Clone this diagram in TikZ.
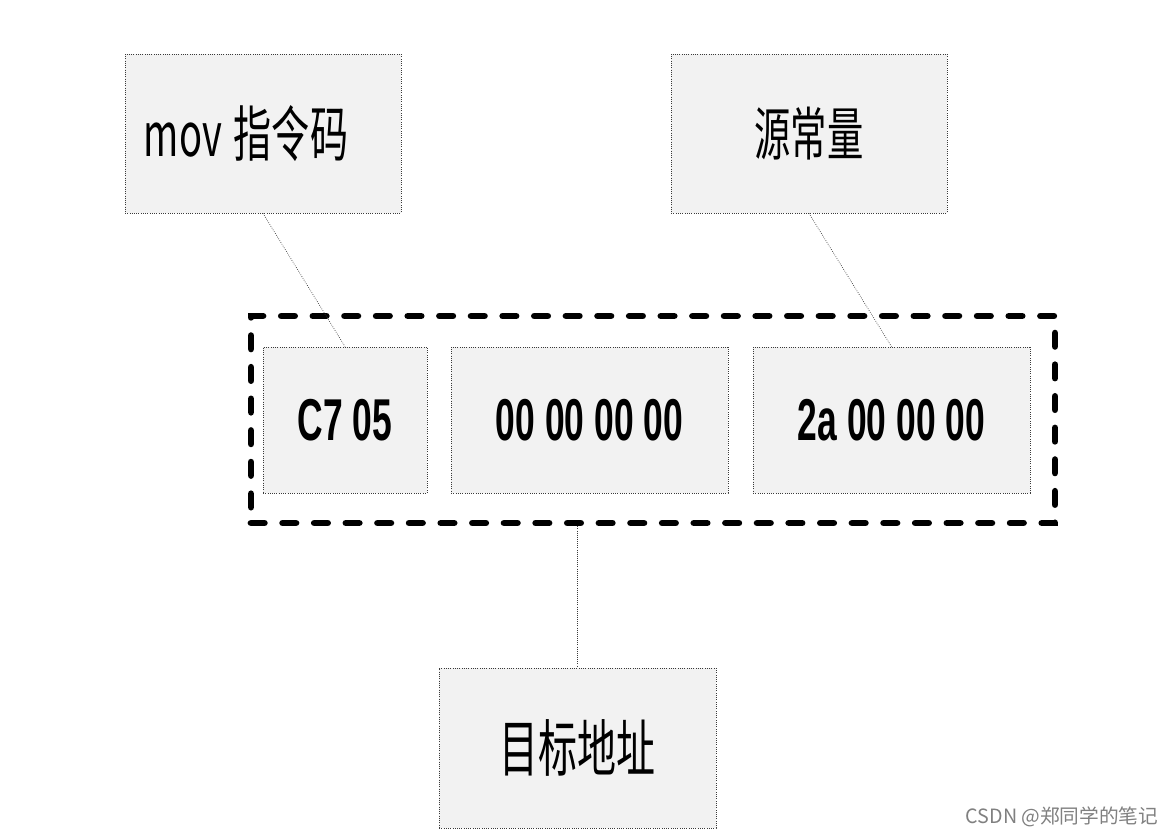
\documentclass[tikz,border=0pt]{standalone}
\usepackage{fontspec}
\usepackage{tikz}
\usetikzlibrary{positioning,calc}
\setmainfont{Liberation Sans}
\newfontfamily\cjkfont[FakeStretch=0.63]{Noto Sans CJK SC}
\newfontfamily\hexfont[FakeStretch=0.6]{Liberation Sans}
\newfontfamily\markfont{Noto Sans CJK SC}
\definecolor{boxfill}{HTML}{F2F2F2}
\definecolor{boxline}{HTML}{3A3A3A}

\begin{document}
\begin{tikzpicture}[
  lblbox/.style={draw=boxline, densely dotted, line width=0.6pt, fill=boxfill, minimum width=6.9cm, minimum height=3.975cm, inner sep=0pt, font=\cjkfont\fontsize{41}{48}\selectfont},
  hexbox/.style={draw=boxline, densely dotted, line width=0.6pt, fill=boxfill, minimum height=3.65cm, inner sep=0pt, font=\hexfont\bfseries\fontsize{42}{50}\selectfont},
  outerbox/.style={draw=black, line width=4.8pt, line cap=round, dash pattern=on 9.5pt off 13pt, minimum width=20.1cm, minimum height=5.175cm},
  link/.style={draw=boxline, densely dotted, line width=0.5pt}]
\useasboundingbox (0,0) rectangle (29.325,-20.9);
% instruction bytes
\node[outerbox] (instr) at (16.325,-10.4875) {};
\node[hexbox, minimum width=4.1cm] (opcode) at (8.625,-10.5) {C7 05};
\node[hexbox, minimum width=6.925cm] (addr) at (14.7375,-10.5) {00 00 00 00};
\node[hexbox, minimum width=6.925cm] (imm) at (22.2875,-10.5) {2a 00 00 00};
% labels
\node[lblbox, font=\cjkfont\fontsize{43}{50}\selectfont] (movlbl) at (6.575,-3.3375) {mov\hspace{0.3cm}指令码\hspace{0.85cm}\null};
\node[lblbox] (srclbl) at (20.225,-3.3375) {源常量};
\node[lblbox, minimum width=6.925cm, minimum height=4cm, font=\cjkfont\fontsize{44}{52}\selectfont] (dstlbl) at (14.4375,-18.7) {目标地址};
\coordinate (instrbot) at (instr.south -| dstlbl.north);
\draw[link] (movlbl.south) -- (opcode.north);
\draw[link] (srclbl.south) -- (imm.north);
\draw[link] (instrbot) -- (dstlbl.north);
% watermark
\node[font=\markfont\fontsize{14}{16}\selectfont, text=gray] (mark) at (26.55,-20.43) {CSDN @郑同学的笔记};
\end{tikzpicture}
\end{document}
